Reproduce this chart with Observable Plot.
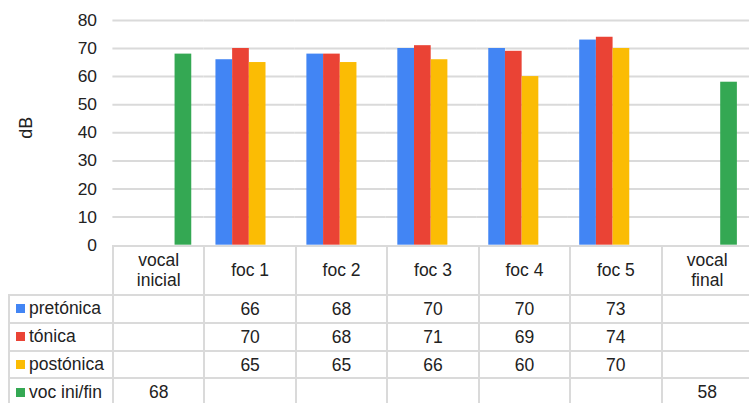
<!DOCTYPE html>
<html>
<head>
<meta charset="utf-8">
<script src="https://cdn.jsdelivr.net/npm/d3@7"></script>
<script src="https://cdn.jsdelivr.net/npm/@observablehq/plot@0.6"></script>
<style>
  html, body { margin: 0; padding: 0; background: #fff; overflow: hidden; }
  #wrap { position: relative; width: 749px; height: 403px; overflow: hidden; font-family: "Liberation Sans", Arial, sans-serif; color: #222; }
  #wrap svg { position: absolute; left: 0; top: 0; }
  .line { position: absolute; background: #dadada; }
  .cell { position: absolute; display: flex; align-items: center; justify-content: center; text-align: center; font-size: 17.5px; line-height: 20px; white-space: pre-line; }
  .leg { position: absolute; display: flex; align-items: center; font-size: 17.5px; white-space: nowrap; }
  .sw { display: inline-block; width: 9px; height: 9px; margin-right: 4px; }
</style>
</head>
<body>
<div id="wrap"></div>
<script>
const categories = ["vocal inicial", "foc 1", "foc 2", "foc 3", "foc 4", "foc 5", "vocal final"];
const categoryLabels = ["vocal\ninicial", "foc 1", "foc 2", "foc 3", "foc 4", "foc 5", "vocal\nfinal"];
const series = ["pretónica", "tónica", "postónica", "voc ini/fin"];
const pretonica = [null, 66, 68, 70, 70, 73, null];
const tonica = [null, 70, 68, 71, 69, 74, null];
const postonica = [null, 65, 65, 66, 60, 70, null];
const vocIniFin = [68, null, null, null, null, null, 58];
const colors = ["#4285F4", "#EA4335", "#FBBC04", "#34A853"];
const yTicks = [0, 10, 20, 30, 40, 50, 60, 70, 80];
const yLabel = "dB";

const seriesValues = [pretonica, tonica, postonica, vocIniFin];
const data = [];
series.forEach((s, si) => {
  categories.forEach((c, ci) => {
    const v = seriesValues[si][ci];
    if (v != null) data.push({cat: c, series: s, value: v});
  });
});

const W = 753, marginLeft = 113, zeroY = 246, topY = 20;
const plot = Plot.plot({
  width: W,
  height: zeroY + 2,
  marginLeft,
  marginRight: 0,
  marginTop: topY,
  marginBottom: 2,
  style: {fontFamily: "'Liberation Sans', Arial, sans-serif", fontSize: "17.5px", color: "#222", background: "transparent", overflow: "visible"},
  fx: {domain: categories, padding: 0, round: false, axis: null, label: null},
  x: {domain: series, paddingInner: 0, paddingOuter: 0.725, round: false, axis: null},
  y: {domain: [0, 80], round: false},
  color: {domain: series, range: colors},
  marks: [
    Plot.ruleY(yTicks.filter(d => d > 0), {stroke: "#dadada", strokeWidth: 2, strokeOpacity: 1}),
    Plot.axisY({ticks: yTicks, tickSize: 0, tickPadding: 16, label: null, fill: "#222", fontSize: 17.5}),
    Plot.text([yLabel], {text: d => d, frameAnchor: "left", dx: -87, dy: -5, rotate: -90, textAnchor: "middle", lineAnchor: "middle", fontSize: 18, fill: "#222", facetAnchor: "left"}),
    Plot.barY(data, {fx: "cat", x: "series", y: "value", fill: "series"})
  ]
});

const wrap = document.getElementById("wrap");
wrap.appendChild(plot);

// table below the chart, aligned on the fx scale
const fx = plot.scale("fx");
const step = fx.step || fx.bandwidth;
const colLeft = c => fx.apply(c);
const rightEdge = W;
const headerBottom = 294.5;
const rowTops = [294.5, 322.5, 350.5, 378];
const rowH = 28;
const legendLeft = 9;

function line(x, y, w, h) {
  const d = document.createElement("div");
  d.className = "line";
  d.style.left = x + "px"; d.style.top = y + "px";
  d.style.width = w + "px"; d.style.height = h + "px";
  wrap.appendChild(d);
}
// horizontal borders
line(marginLeft - 1, zeroY - 1, rightEdge - marginLeft + 1, 2);
rowTops.forEach(t => line(legendLeft - 1, t - 1, rightEdge - legendLeft + 1, 2));
// vertical borders
line(legendLeft - 1, headerBottom - 1, 2, 410 - headerBottom);
categories.forEach(c => line(colLeft(c) - 1, zeroY - 1, 2, 410 - zeroY));

// header cells
categories.forEach((c, i) => {
  const d = document.createElement("div");
  d.className = "cell";
  d.style.left = colLeft(c) + "px";
  d.style.width = step + "px";
  d.style.top = zeroY + "px";
  d.style.height = (headerBottom - zeroY) + "px";
  d.textContent = categoryLabels[i];
  wrap.appendChild(d);
});
// rows
series.forEach((s, si) => {
  const top = rowTops[si];
  const lg = document.createElement("div");
  lg.className = "leg";
  lg.style.left = (legendLeft + 7) + "px";
  lg.style.top = top + "px";
  lg.style.height = rowH + "px";
  const sw = document.createElement("span");
  sw.className = "sw";
  sw.style.background = colors[si];
  lg.appendChild(sw);
  lg.appendChild(document.createTextNode(s));
  wrap.appendChild(lg);
  categories.forEach((c, ci) => {
    const v = seriesValues[si][ci];
    if (v == null) return;
    const d = document.createElement("div");
    d.className = "cell";
    d.style.left = colLeft(c) + "px";
    d.style.width = step + "px";
    d.style.top = top + "px";
    d.style.height = rowH + "px";
    d.textContent = v;
    wrap.appendChild(d);
  });
});
</script>
</body>
</html>
